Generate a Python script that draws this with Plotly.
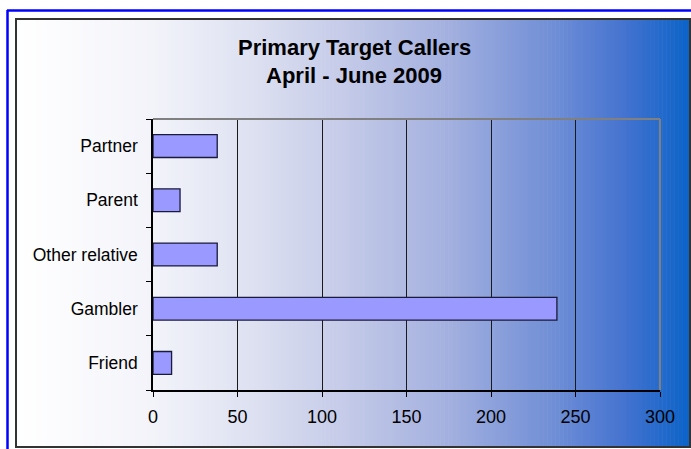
import plotly.graph_objects as go

# ---- data ----
categories = ["Friend", "Gambler", "Other relative", "Parent", "Partner"]
callers = [11, 239, 38, 16, 38]
x_ticks = [0, 50, 100, 150, 200, 250, 300]
title_line1 = "Primary Target Callers"
title_line2 = "April - June 2009"

W, H = 691, 449
L, R, T, B = 153, 660, 119, 390  # plot area in pixels


def xp(px):
    return (px - L) / (R - L)


def yp(py):
    return (B - py) / (B - T)


def hex2rgb(h):
    h = h.lstrip("#")
    return tuple(int(h[i:i + 2], 16) for i in (0, 2, 4))


stops = [(0.0, "#FFFFFF"), (0.2, "#F3F4FA"), (0.35, "#DDE1F1"), (0.49, "#C4CAE8"),
         (0.64, "#A3B0DF"), (0.79, "#7290D6"), (0.9, "#4674D0"), (1.0, "#0A62C8")]


def grad(t):
    for (t0, c0), (t1, c1) in zip(stops[:-1], stops[1:]):
        if t <= t1:
            f = (t - t0) / (t1 - t0) if t1 > t0 else 0
            a, b = hex2rgb(c0), hex2rgb(c1)
            return "rgb(%d,%d,%d)" % tuple(round(a[i] + (b[i] - a[i]) * f) for i in range(3))
    return stops[-1][1]


shapes = []
fx0, fx1, fy0, fy1 = 16, 690, 19, 447
n = 170
step = (fx1 - fx0) / n
for i in range(n):
    x0 = fx0 + i * step
    x1 = x0 + step + 0.6
    shapes.append(dict(type="rect", xref="paper", yref="paper", layer="below",
                       x0=xp(x0), x1=xp(min(x1, fx1)), y0=yp(fy1), y1=yp(fy0),
                       line=dict(width=0), fillcolor=grad((i + 0.5) / n)))
# dark frame
shapes.append(dict(type="rect", xref="paper", yref="paper", layer="above",
                   x0=xp(fx0), x1=xp(fx1), y0=yp(fy1), y1=yp(fy0),
                   line=dict(color="#333333", width=2), fillcolor="rgba(0,0,0,0)"))
# blue outer lines
shapes.append(dict(type="line", xref="paper", yref="paper", layer="above",
                   x0=xp(7), x1=xp(W + 2), y0=yp(10.5), y1=yp(10.5),
                   line=dict(color="#0000FF", width=2.5)))
shapes.append(dict(type="line", xref="paper", yref="paper", layer="above",
                   x0=xp(7.5), x1=xp(7.5), y0=yp(10), y1=yp(H + 2),
                   line=dict(color="#0000FF", width=2.5)))
# gray top and right plot borders
shapes.append(dict(type="line", xref="paper", yref="paper", layer="above",
                   x0=0, x1=1, y0=1, y1=1, line=dict(color="#808080", width=2)))
shapes.append(dict(type="line", xref="paper", yref="paper", layer="above",
                   x0=1, x1=1, y0=0, y1=1, line=dict(color="#808080", width=2)))

fig = go.Figure(go.Bar(
    y=categories, x=callers, orientation="h",
    marker=dict(color="#9999FF", line=dict(color="#1A1A3A", width=1.3)),
    width=0.42, hoverinfo="x+y",
))

font = "Liberation Sans, Arial, sans-serif"
fig.update_layout(
    width=W, height=H,
    margin=dict(l=L, r=W - R, t=T, b=H - B, pad=0),
    paper_bgcolor="white", plot_bgcolor="rgba(0,0,0,0)",
    shapes=shapes, showlegend=False,
    font=dict(family=font, size=17.5, color="black"),
    xaxis=dict(range=[0, 300], tickvals=x_ticks, ticktext=[str(v) for v in x_ticks],
               showgrid=True, gridcolor="#1a1a1a", gridwidth=1,
               showline=True, linecolor="black", linewidth=1.5,
               ticks="outside", ticklen=5, tickcolor="black",
               ticklabelstandoff=5, tickfont=dict(size=18),
               zeroline=False, fixedrange=True),
    yaxis=dict(type="category", categoryorder="array", categoryarray=categories,
               tickson="boundaries", ticks="outside", ticklen=5, tickcolor="black",
               showline=True, linecolor="black", linewidth=1.5,
               showgrid=False, ticklabelstandoff=10, fixedrange=True),
    annotations=[
        dict(text="<b>%s</b>" % title_line1, xref="paper", yref="paper",
             x=xp(354), y=yp(47), xanchor="center", yanchor="middle",
             showarrow=False, font=dict(family=font, size=22, color="black")),
        dict(text="<b>%s</b>" % title_line2, xref="paper", yref="paper",
             x=xp(354), y=yp(76), xanchor="center", yanchor="middle",
             showarrow=False, font=dict(family=font, size=22, color="black")),
    ],
)

fig.write_html("out.html", config={"displayModeBar": False},
               post_script="document.body.style.margin='0';document.body.style.overflow='hidden';")
